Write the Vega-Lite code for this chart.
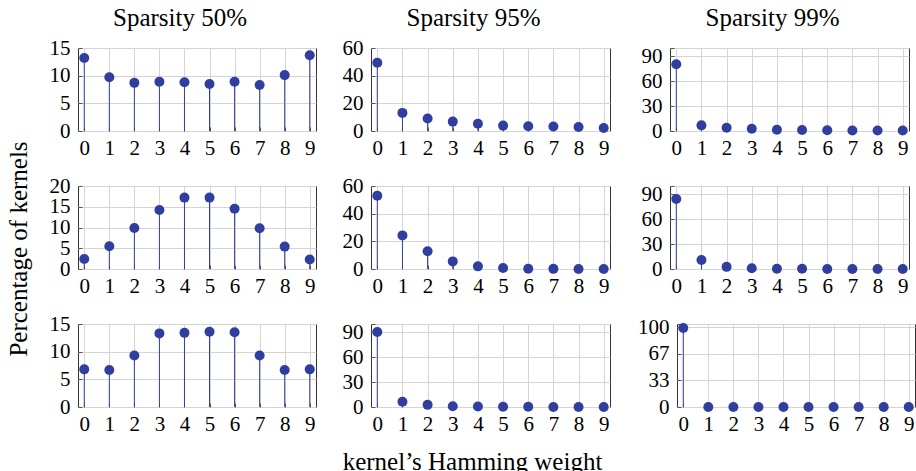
{
  "$schema": "https://vega.github.io/schema/vega-lite/v6.json",
  "padding": {"left": 6, "top": 5, "right": 0, "bottom": 0},
  "datasets": {
    "kernels": [
      {"r": 1, "s": "50", "k": 0, "v": 13.2}, {"r": 1, "s": "50", "k": 1, "v": 9.7}, {"r": 1, "s": "50", "k": 2, "v": 8.7}, {"r": 1, "s": "50", "k": 3, "v": 8.9}, {"r": 1, "s": "50", "k": 4, "v": 8.8},
      {"r": 1, "s": "50", "k": 5, "v": 8.5}, {"r": 1, "s": "50", "k": 6, "v": 8.9}, {"r": 1, "s": "50", "k": 7, "v": 8.3}, {"r": 1, "s": "50", "k": 8, "v": 10.1}, {"r": 1, "s": "50", "k": 9, "v": 13.7},
      {"r": 1, "s": "95", "k": 0, "v": 49.3}, {"r": 1, "s": "95", "k": 1, "v": 13.1}, {"r": 1, "s": "95", "k": 2, "v": 9.0}, {"r": 1, "s": "95", "k": 3, "v": 6.8}, {"r": 1, "s": "95", "k": 4, "v": 5.3},
      {"r": 1, "s": "95", "k": 5, "v": 3.9}, {"r": 1, "s": "95", "k": 6, "v": 3.4}, {"r": 1, "s": "95", "k": 7, "v": 3.2}, {"r": 1, "s": "95", "k": 8, "v": 2.9}, {"r": 1, "s": "95", "k": 9, "v": 2.2},
      {"r": 1, "s": "99", "k": 0, "v": 80.4}, {"r": 1, "s": "99", "k": 1, "v": 6.8}, {"r": 1, "s": "99", "k": 2, "v": 4.0}, {"r": 1, "s": "99", "k": 3, "v": 2.8}, {"r": 1, "s": "99", "k": 4, "v": 1.6},
      {"r": 1, "s": "99", "k": 5, "v": 1.2}, {"r": 1, "s": "99", "k": 6, "v": 0.8}, {"r": 1, "s": "99", "k": 7, "v": 0.7}, {"r": 1, "s": "99", "k": 8, "v": 0.6}, {"r": 1, "s": "99", "k": 9, "v": 0.5},
      {"r": 2, "s": "50", "k": 0, "v": 2.4}, {"r": 2, "s": "50", "k": 1, "v": 5.5}, {"r": 2, "s": "50", "k": 2, "v": 9.9}, {"r": 2, "s": "50", "k": 3, "v": 14.2}, {"r": 2, "s": "50", "k": 4, "v": 17.2},
      {"r": 2, "s": "50", "k": 5, "v": 17.2}, {"r": 2, "s": "50", "k": 6, "v": 14.5}, {"r": 2, "s": "50", "k": 7, "v": 9.8}, {"r": 2, "s": "50", "k": 8, "v": 5.4}, {"r": 2, "s": "50", "k": 9, "v": 2.3},
      {"r": 2, "s": "95", "k": 0, "v": 53.0}, {"r": 2, "s": "95", "k": 1, "v": 24.3}, {"r": 2, "s": "95", "k": 2, "v": 12.8}, {"r": 2, "s": "95", "k": 3, "v": 5.5}, {"r": 2, "s": "95", "k": 4, "v": 1.9},
      {"r": 2, "s": "95", "k": 5, "v": 0.7}, {"r": 2, "s": "95", "k": 6, "v": 0.2}, {"r": 2, "s": "95", "k": 7, "v": 0.1}, {"r": 2, "s": "95", "k": 8, "v": 0.05}, {"r": 2, "s": "95", "k": 9, "v": 0.02},
      {"r": 2, "s": "99", "k": 0, "v": 84.4}, {"r": 2, "s": "99", "k": 1, "v": 10.8}, {"r": 2, "s": "99", "k": 2, "v": 2.6}, {"r": 2, "s": "99", "k": 3, "v": 0.8}, {"r": 2, "s": "99", "k": 4, "v": 0.3},
      {"r": 2, "s": "99", "k": 5, "v": 0.2}, {"r": 2, "s": "99", "k": 6, "v": 0.1}, {"r": 2, "s": "99", "k": 7, "v": 0.1}, {"r": 2, "s": "99", "k": 8, "v": 0.1}, {"r": 2, "s": "99", "k": 9, "v": 0.1},
      {"r": 3, "s": "50", "k": 0, "v": 6.8}, {"r": 3, "s": "50", "k": 1, "v": 6.7}, {"r": 3, "s": "50", "k": 2, "v": 9.3}, {"r": 3, "s": "50", "k": 3, "v": 13.3}, {"r": 3, "s": "50", "k": 4, "v": 13.4},
      {"r": 3, "s": "50", "k": 5, "v": 13.6}, {"r": 3, "s": "50", "k": 6, "v": 13.5}, {"r": 3, "s": "50", "k": 7, "v": 9.3}, {"r": 3, "s": "50", "k": 8, "v": 6.7}, {"r": 3, "s": "50", "k": 9, "v": 6.8},
      {"r": 3, "s": "95", "k": 0, "v": 90.4}, {"r": 3, "s": "95", "k": 1, "v": 6.4}, {"r": 3, "s": "95", "k": 2, "v": 2.6}, {"r": 3, "s": "95", "k": 3, "v": 1.0}, {"r": 3, "s": "95", "k": 4, "v": 0.5},
      {"r": 3, "s": "95", "k": 5, "v": 0.3}, {"r": 3, "s": "95", "k": 6, "v": 0.2}, {"r": 3, "s": "95", "k": 7, "v": 0.1}, {"r": 3, "s": "95", "k": 8, "v": 0.1}, {"r": 3, "s": "95", "k": 9, "v": 0.1},
      {"r": 3, "s": "99", "k": 0, "v": 99.0}, {"r": 3, "s": "99", "k": 1, "v": 0}, {"r": 3, "s": "99", "k": 2, "v": 0}, {"r": 3, "s": "99", "k": 3, "v": 0}, {"r": 3, "s": "99", "k": 4, "v": 0},
      {"r": 3, "s": "99", "k": 5, "v": 0}, {"r": 3, "s": "99", "k": 6, "v": 0}, {"r": 3, "s": "99", "k": 7, "v": 0}, {"r": 3, "s": "99", "k": 8, "v": 0}, {"r": 3, "s": "99", "k": 9, "v": 0}
    ]
  },
  "data": {"name": "kernels"},
  "title": {"text": "Percentage of kernels", "orient": "left", "anchor": "middle", "frame": "bounds", "baseline": "alphabetic", "offset": -19, "dx": -9, "fontSize": 25},
  "spacing": 15,
  "vconcat": [
    {
      "spacing": 10,
      "hconcat": [
        {
          "width": 238, "height": 83,
          "title": {"text": "Sparsity 50%", "frame": "group", "anchor": "middle", "dx": -17, "baseline": "alphabetic", "offset": -14},
          "transform": [{"filter": "datum.r == 1 && datum.s == '50'"}],
          "encoding": {
            "x": {"field": "k", "type": "quantitative", "scale": {"domain": [-0.25, 9.25], "nice": false, "zero": false}, "axis": {"values": [0, 1, 2, 3, 4, 5, 6, 7, 8, 9], "title": null}},
            "y": {"field": "v", "type": "quantitative", "scale": {"domain": [0, 15], "nice": false}, "axis": {"values": [0, 5, 10, 15], "title": null, "minExtent": 45}}
          },
          "layer": [
            {"mark": {"type": "rule", "color": "#303F9F", "strokeWidth": 1}, "encoding": {"y2": {"datum": 0}}},
            {"mark": {"type": "circle", "size": 100, "opacity": 1, "color": "#303F9F"}}
          ]
        },
        {
          "width": 239, "height": 83,
          "title": {"text": "Sparsity 95%", "frame": "group", "anchor": "middle", "dx": -17, "baseline": "alphabetic", "offset": -14},
          "transform": [{"filter": "datum.r == 1 && datum.s == '95'"}],
          "encoding": {
            "x": {"field": "k", "type": "quantitative", "scale": {"domain": [-0.25, 9.25], "nice": false, "zero": false}, "axis": {"values": [0, 1, 2, 3, 4, 5, 6, 7, 8, 9], "title": null}},
            "y": {"field": "v", "type": "quantitative", "scale": {"domain": [0, 60], "nice": false}, "axis": {"values": [0, 20, 40, 60], "title": null, "minExtent": 43}}
          },
          "layer": [
            {"mark": {"type": "rule", "color": "#303F9F", "strokeWidth": 1}, "encoding": {"y2": {"datum": 0}}},
            {"mark": {"type": "circle", "size": 100, "opacity": 1, "color": "#303F9F"}}
          ]
        },
        {
          "width": 239, "height": 83,
          "title": {"text": "Sparsity 99%", "frame": "group", "anchor": "middle", "dx": -17, "baseline": "alphabetic", "offset": -14},
          "transform": [{"filter": "datum.r == 1 && datum.s == '99'"}],
          "encoding": {
            "x": {"field": "k", "type": "quantitative", "scale": {"domain": [-0.25, 9.25], "nice": false, "zero": false}, "axis": {"values": [0, 1, 2, 3, 4, 5, 6, 7, 8, 9], "title": null}},
            "y": {"field": "v", "type": "quantitative", "scale": {"domain": [0, 100], "nice": false}, "axis": {"values": [0, 30, 60, 90, 100], "labelExpr": "datum.value > 99 ? '' : datum.label", "title": null, "minExtent": 48}}
          },
          "layer": [
            {"mark": {"type": "rule", "color": "#303F9F", "strokeWidth": 1}, "encoding": {"y2": {"datum": 0}}},
            {"mark": {"type": "circle", "size": 100, "opacity": 1, "color": "#303F9F"}}
          ]
        }
      ]
    },
    {
      "spacing": 10,
      "hconcat": [
        {
          "width": 238, "height": 83,
          "transform": [{"filter": "datum.r == 2 && datum.s == '50'"}],
          "encoding": {
            "x": {"field": "k", "type": "quantitative", "scale": {"domain": [-0.25, 9.25], "nice": false, "zero": false}, "axis": {"values": [0, 1, 2, 3, 4, 5, 6, 7, 8, 9], "title": null}},
            "y": {"field": "v", "type": "quantitative", "scale": {"domain": [0, 20], "nice": false}, "axis": {"values": [0, 5, 10, 15, 20], "title": null, "minExtent": 45}}
          },
          "layer": [
            {"mark": {"type": "rule", "color": "#303F9F", "strokeWidth": 1}, "encoding": {"y2": {"datum": 0}}},
            {"mark": {"type": "circle", "size": 100, "opacity": 1, "color": "#303F9F"}}
          ]
        },
        {
          "width": 239, "height": 83,
          "transform": [{"filter": "datum.r == 2 && datum.s == '95'"}],
          "encoding": {
            "x": {"field": "k", "type": "quantitative", "scale": {"domain": [-0.25, 9.25], "nice": false, "zero": false}, "axis": {"values": [0, 1, 2, 3, 4, 5, 6, 7, 8, 9], "title": null}},
            "y": {"field": "v", "type": "quantitative", "scale": {"domain": [0, 60], "nice": false}, "axis": {"values": [0, 20, 40, 60], "title": null, "minExtent": 43}}
          },
          "layer": [
            {"mark": {"type": "rule", "color": "#303F9F", "strokeWidth": 1}, "encoding": {"y2": {"datum": 0}}},
            {"mark": {"type": "circle", "size": 100, "opacity": 1, "color": "#303F9F"}}
          ]
        },
        {
          "width": 239, "height": 83,
          "transform": [{"filter": "datum.r == 2 && datum.s == '99'"}],
          "encoding": {
            "x": {"field": "k", "type": "quantitative", "scale": {"domain": [-0.25, 9.25], "nice": false, "zero": false}, "axis": {"values": [0, 1, 2, 3, 4, 5, 6, 7, 8, 9], "title": null}},
            "y": {"field": "v", "type": "quantitative", "scale": {"domain": [0, 100], "nice": false}, "axis": {"values": [0, 30, 60, 90, 100], "labelExpr": "datum.value > 99 ? '' : datum.label", "title": null, "minExtent": 48}}
          },
          "layer": [
            {"mark": {"type": "rule", "color": "#303F9F", "strokeWidth": 1}, "encoding": {"y2": {"datum": 0}}},
            {"mark": {"type": "circle", "size": 100, "opacity": 1, "color": "#303F9F"}}
          ]
        }
      ]
    },
    {
      "spacing": 10,
      "hconcat": [
        {
          "width": 238, "height": 83,
          "transform": [{"filter": "datum.r == 3 && datum.s == '50'"}],
          "encoding": {
            "x": {"field": "k", "type": "quantitative", "scale": {"domain": [-0.25, 9.25], "nice": false, "zero": false}, "axis": {"values": [0, 1, 2, 3, 4, 5, 6, 7, 8, 9], "title": null}},
            "y": {"field": "v", "type": "quantitative", "scale": {"domain": [0, 15], "nice": false}, "axis": {"values": [0, 5, 10, 15], "title": null, "minExtent": 45}}
          },
          "layer": [
            {"mark": {"type": "rule", "color": "#303F9F", "strokeWidth": 1}, "encoding": {"y2": {"datum": 0}}},
            {"mark": {"type": "circle", "size": 100, "opacity": 1, "color": "#303F9F"}}
          ]
        },
        {
          "width": 239, "height": 83,
          "transform": [{"filter": "datum.r == 3 && datum.s == '95'"}],
          "encoding": {
            "x": {"field": "k", "type": "quantitative", "scale": {"domain": [-0.25, 9.25], "nice": false, "zero": false}, "axis": {"values": [0, 1, 2, 3, 4, 5, 6, 7, 8, 9], "title": "kernel’s Hamming weight", "titleX": 101, "titleY": 62, "titleBaseline": "alphabetic", "titleAlign": "center"}},
            "y": {"field": "v", "type": "quantitative", "scale": {"domain": [0, 100], "nice": false}, "axis": {"values": [0, 30, 60, 90, 100], "labelExpr": "datum.value > 99 ? '' : datum.label", "title": null, "minExtent": 43}}
          },
          "layer": [
            {"mark": {"type": "rule", "color": "#303F9F", "strokeWidth": 1}, "encoding": {"y2": {"datum": 0}}},
            {"mark": {"type": "circle", "size": 100, "opacity": 1, "color": "#303F9F"}}
          ]
        },
        {
          "width": 238, "height": 83,
          "transform": [{"filter": "datum.r == 3 && datum.s == '99'"}],
          "encoding": {
            "x": {"field": "k", "type": "quantitative", "scale": {"domain": [-0.25, 9.25], "nice": false, "zero": false}, "axis": {"values": [0, 1, 2, 3, 4, 5, 6, 7, 8, 9], "title": null}},
            "y": {"field": "v", "type": "quantitative", "scale": {"domain": [0, 104], "nice": false}, "axis": {"values": [0, 33.333, 66.667, 100, 104], "format": ".0f", "labelExpr": "datum.value > 101 ? '' : datum.label", "title": null, "minExtent": 55}}
          },
          "layer": [
            {"mark": {"type": "rule", "color": "#303F9F", "strokeWidth": 1}, "encoding": {"y2": {"datum": 0}}},
            {"mark": {"type": "circle", "size": 100, "opacity": 1, "color": "#303F9F"}}
          ]
        }
      ]
    }
  ],
  "config": {
    "font": "Liberation Serif",
    "background": "white",
    "view": {"stroke": "#333333", "strokeWidth": 1},
    "axis": {
      "labelFont": "Liberation Serif", "labelFontSize": 21, "labelColor": "#000",
      "domain": false, "ticks": true, "tickSize": -4, "tickColor": "#555555", "tickWidth": 1,
      "grid": true, "gridColor": "#d4d4d4", "gridWidth": 1,
      "labelFlush": false, "labelOverlap": false, "labelBound": false,
      "titleFont": "Liberation Serif", "titleFontSize": 25, "titleFontWeight": "normal", "titleColor": "#000"
    },
    "axisX": {"labelPadding": 10},
    "axisY": {"labelPadding": 12},
    "title": {"font": "Liberation Serif", "fontSize": 25, "fontWeight": "normal", "color": "#000"}
  }
}
